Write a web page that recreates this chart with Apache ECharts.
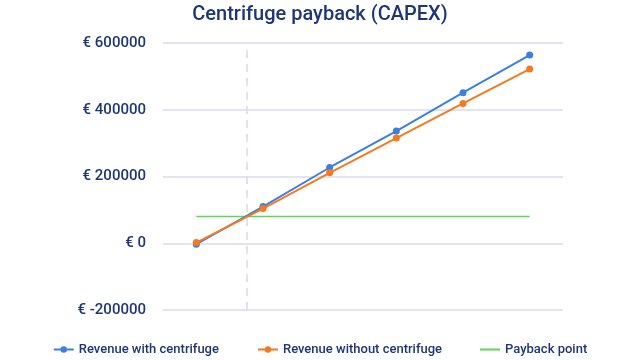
<!DOCTYPE html>
<html><head><meta charset="utf-8">
<script src="https://cdn.jsdelivr.net/npm/echarts@6/dist/echarts.min.js"></script>
<style>html,body{margin:0;padding:0;background:#fff}#c{width:640px;height:360px}</style>
</head><body><div id="c"></div>
<script>
var categories = [0, 1, 2, 3, 4, 5];
var withCentrifuge = [-3000, 110000, 227000, 336000, 451000, 564000];
var withoutCentrifuge = [2000, 104000, 211000, 315000, 419000, 522000];
var paybackPoint = [80000, 80000, 80000, 80000, 80000, 80000];
var paybackX = 0.75;
var yTicks = [-200000, 0, 200000, 400000, 600000];

function pairs(vals){ return categories.map(function(c, i){ return [c, vals[i]]; }); }

var txt = '#1c3677';
var chart = echarts.init(document.getElementById('c'));
chart.setOption({
  animation: false,
  title: {text: 'Centrifuge payback (CAPEX)', left: 'center', top: 0,
    textStyle: {color: txt, fontFamily: 'Roboto', fontSize: 20, fontWeight: 500}},
  grid: {left: 163, right: 77, top: 43, bottom: 50},
  legend: {bottom: -1, itemGap: 38, itemWidth: 20, itemHeight: 8,
    textStyle: {color: txt, fontFamily: 'Roboto', fontSize: 13, fontWeight: 500},
    data: ['Revenue with centrifuge', 'Revenue without centrifuge',
      {name: 'Payback point', icon: 'path://M0,0 L20,0 L20,2 L0,2 Z'}]},
  xAxis: {type: 'value', min: categories[0] - 0.5, max: categories[categories.length-1] + 0.5,
    axisLine: {show: false}, axisTick: {show: false}, axisLabel: {show: false}, splitLine: {show: false}},
  yAxis: {type: 'value', min: yTicks[0], max: yTicks[yTicks.length-1], interval: 200000,
    axisLine: {show: false}, axisTick: {show: false},
    axisLabel: {color: txt, fontFamily: 'Roboto', fontSize: 15, fontWeight: 500, margin: 17,
      formatter: function(v){ return '€ ' + v; }},
    splitLine: {lineStyle: {color: '#e4e4f0', width: 2}}},
  series: [
    {name: 'Revenue with centrifuge', type: 'line', data: pairs(withCentrifuge),
      color: '#3d7fe0', symbol: 'circle', symbolSize: 7, lineStyle: {width: 2}, z: 3,
      markLine: {silent: true, symbol: 'none', label: {show: false},
        lineStyle: {color: '#e2e2ee', type: [8, 6], width: 2},
        data: [{xAxis: paybackX}]}},
    {name: 'Revenue without centrifuge', type: 'line', data: pairs(withoutCentrifuge),
      color: '#f5791f', symbol: 'circle', symbolSize: 7, lineStyle: {width: 2}, z: 4},
    {name: 'Payback point', type: 'line', data: pairs(paybackPoint),
      color: '#5ad85a', symbol: 'none', lineStyle: {width: 1.5}, z: 2}
  ]
});
</script></body></html>
